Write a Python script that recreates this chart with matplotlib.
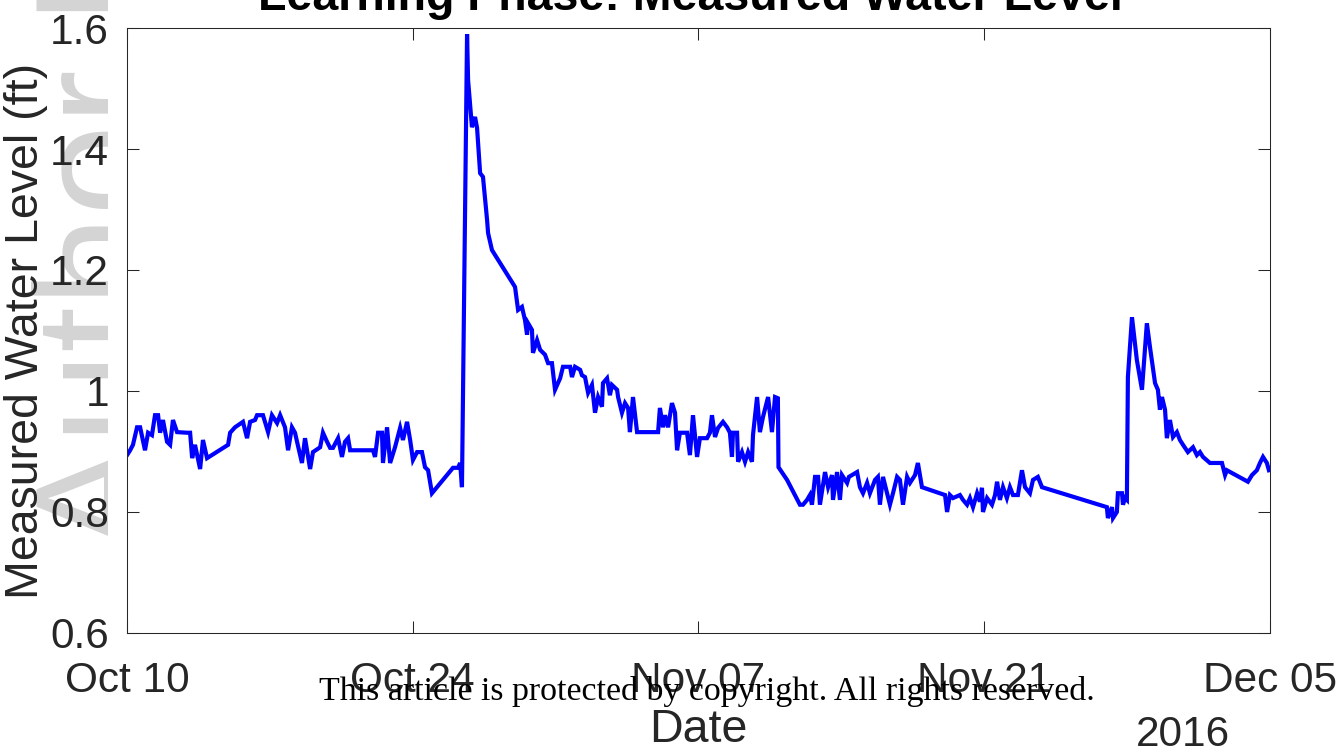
import numpy as np
import pandas as pd
import matplotlib.pyplot as plt
import matplotlib.dates as mdates
from matplotlib.ticker import FuncFormatter
from matplotlib.transforms import Bbox, TransformedBbox

plt.rcParams['font.family'] = ['Liberation Sans', 'DejaVu Sans']

start = pd.Timestamp('2016-10-10')

# days elapsed since Oct 10 2016
days = [
    0.00, 0.15, 0.29, 0.49, 0.64, 0.88, 1.03, 1.22, 1.37, 1.52, 1.62, 1.76,
    1.96, 2.11, 2.25, 2.45, 2.94, 3.09, 3.19, 3.33, 3.58, 3.72, 3.92, 4.95,
    5.05, 5.29, 5.68, 5.88, 6.03, 6.27, 6.37, 6.66, 6.91, 7.10, 7.35, 7.50,
    7.74, 7.89, 8.08, 8.23, 8.33, 8.57, 8.72, 8.97, 9.11, 9.46, 9.60, 9.80,
    9.95, 10.09, 10.34, 10.53, 10.68, 10.83, 10.93, 12.05, 12.15, 12.30,
    12.49, 12.54, 12.74, 12.89, 13.13, 13.38, 13.52, 13.72, 13.87, 14.01,
    14.21, 14.45, 14.60, 14.75, 14.94, 15.97, 16.22, 16.32, 16.41, 16.66,
    16.71, 16.90, 17.05, 17.15, 17.30, 17.44, 17.64, 17.69, 17.88, 19.01,
    19.16, 19.35, 19.50, 19.60, 19.65, 19.84, 19.89, 20.09, 20.24, 20.48,
    20.63, 20.82, 20.97, 21.22, 21.36, 21.71, 21.80, 21.95, 22.20, 22.29,
    22.44, 22.59, 22.78, 22.93, 23.08, 23.27, 23.32, 23.52, 23.66, 23.76,
    24.01, 24.06, 24.25, 24.40, 24.55, 24.64, 24.79, 24.99, 26.02, 26.11,
    26.26, 26.36, 26.51, 26.70, 26.85, 26.95, 27.09, 27.44, 27.58, 27.73,
    27.93, 28.07, 28.42, 28.56, 28.66, 28.81, 28.96, 29.20, 29.40, 29.54,
    29.64, 29.69, 29.89, 29.94, 30.13, 30.28, 30.43, 30.62, 30.67, 30.87,
    31.01, 31.16, 31.41, 31.60, 31.75, 31.89, 31.92, 32.34, 32.97, 33.12,
    33.32, 33.46, 33.56, 33.71, 33.86, 33.95, 34.20, 34.35, 34.54, 34.59,
    34.79, 34.93, 35.03, 35.28, 35.37, 35.77, 35.91, 36.06, 36.26, 36.40,
    36.65, 36.79, 36.89, 37.04, 37.24, 37.38, 37.53, 37.73, 37.87, 38.02,
    38.22, 38.36, 38.61, 38.75, 38.85, 38.95, 40.08, 40.18, 40.32, 40.47,
    40.81, 40.96, 41.16, 41.30, 41.45, 41.65, 41.79, 41.89, 41.94, 42.14,
    42.38, 42.53, 42.63, 42.77, 42.92, 43.11, 43.26, 43.41, 43.65, 43.85,
    44.00, 44.24, 44.39, 44.63, 44.83, 48.01, 48.06, 48.26, 48.31, 48.50,
    48.55, 48.75, 48.80, 48.90, 48.99, 49.04, 49.24, 49.48, 49.73, 49.97,
    50.12, 50.37, 50.51, 50.61, 50.71, 50.86, 50.95, 51.10, 51.25, 51.44,
    51.59, 51.74, 51.98, 52.23, 52.42, 52.57, 52.72, 53.06, 53.65, 53.80,
    53.89, 54.92, 55.12, 55.36, 55.51, 55.66, 55.85, 55.95,
]

# measured water level (ft)
level = [
    0.894, 0.902, 0.911, 0.940, 0.940, 0.902, 0.931, 0.927, 0.960, 0.960, 0.931, 0.952,
    0.916, 0.911, 0.952, 0.932, 0.931, 0.931, 0.889, 0.911, 0.871, 0.919, 0.889, 0.911,
    0.931, 0.940, 0.949, 0.922, 0.949, 0.952, 0.960, 0.960, 0.932, 0.960, 0.947, 0.960,
    0.940, 0.902, 0.940, 0.931, 0.916, 0.881, 0.922, 0.871, 0.899, 0.907, 0.931, 0.916,
    0.906, 0.906, 0.922, 0.891, 0.916, 0.922, 0.902, 0.902, 0.891, 0.931,
    0.931, 0.881, 0.940, 0.881, 0.907, 0.939, 0.919, 0.949, 0.919, 0.886,
    0.899, 0.899, 0.874, 0.869, 0.831, 0.873, 0.873, 0.881, 0.841, 1.590,
    1.514, 1.436, 1.453, 1.435, 1.360, 1.354, 1.283, 1.261, 1.233, 1.172,
    1.134, 1.139, 1.117, 1.093, 1.112, 1.101, 1.063, 1.084, 1.068, 1.060,
    1.046, 1.046, 1.002, 1.021, 1.040, 1.040, 1.023, 1.040, 1.035, 1.026,
    1.023, 0.997, 1.010, 0.964, 0.990, 0.974, 1.013, 1.021, 0.993, 1.010,
    1.002, 0.990, 0.964, 0.980, 0.972, 0.932, 0.990, 0.932, 0.932, 0.972,
    0.940, 0.960, 0.940, 0.980, 0.964, 0.902, 0.931, 0.931, 0.894, 0.960,
    0.891, 0.922, 0.922, 0.931, 0.960, 0.924, 0.939, 0.949, 0.940, 0.931,
    0.891, 0.931, 0.931, 0.883, 0.899, 0.883, 0.899, 0.883, 0.927, 0.990,
    0.932, 0.957, 0.990, 0.932, 0.990, 0.988, 0.874, 0.853, 0.812, 0.812,
    0.820, 0.828, 0.812, 0.858, 0.858, 0.812, 0.866, 0.841, 0.861, 0.820,
    0.866, 0.820, 0.861, 0.848, 0.858, 0.866, 0.841, 0.831, 0.848, 0.831,
    0.853, 0.858, 0.812, 0.858, 0.831, 0.812, 0.831, 0.858, 0.853, 0.812,
    0.858, 0.848, 0.861, 0.881, 0.861, 0.841, 0.828, 0.800, 0.828, 0.823,
    0.828, 0.820, 0.812, 0.823, 0.808, 0.831, 0.817, 0.840, 0.800, 0.823,
    0.812, 0.828, 0.850, 0.820, 0.841, 0.823, 0.841, 0.828, 0.828, 0.869,
    0.841, 0.831, 0.853, 0.858, 0.841, 0.808, 0.790, 0.808, 0.790, 0.800,
    0.831, 0.831, 0.812, 0.823, 0.820, 1.023, 1.122, 1.051, 1.002, 1.112,
    1.073, 1.013, 1.002, 0.969, 0.990, 0.969, 0.922, 0.952, 0.924, 0.932,
    0.919, 0.911, 0.899, 0.907, 0.894, 0.899, 0.891, 0.881, 0.881, 0.861,
    0.869, 0.850, 0.861, 0.869, 0.881, 0.891, 0.881, 0.869,
]

tick_dates = ['2016-10-10', '2016-10-24', '2016-11-07', '2016-11-21', '2016-12-05']
y_ticks = [0.6, 0.8, 1.0, 1.2, 1.4, 1.6]

t = start + pd.to_timedelta(days, unit='D')
dark = '#262626'

fig = plt.figure(figsize=(13.43, 7.53), dpi=100)
ax = fig.add_axes([0.0946, 0.1594, 0.851, 0.8034])
ax.set_zorder(1)
ax.patch.set_alpha(0)

# pale "Author Manuscript" stamp down the left margin, behind the axes
stamp = fig.text(150 / 1343, 1 - 552 / 753, 'Author Manuscript', rotation=90,
                 rotation_mode='anchor', ha='left', va='baseline',
                 fontsize=118, color='#d4d4d4', zorder=0)
stamp.set_clip_box(TransformedBbox(Bbox([[0, 0], [108 / 1343, 1]]), fig.transFigure))

ax.plot(t, level, color='#0000ff', linewidth=3, solid_joinstyle='miter')

ax.set_xlim(pd.Timestamp(tick_dates[0]), pd.Timestamp(tick_dates[-1]))
ax.set_ylim(0.6, 1.6)
ax.set_xticks([pd.Timestamp(d) for d in tick_dates])
ax.xaxis.set_major_formatter(mdates.DateFormatter('%b %d'))
ax.set_yticks(y_ticks)
ax.yaxis.set_major_formatter(FuncFormatter(lambda v, p: '%g' % v))

ax.tick_params(direction='in', length=8.5, width=0.75, color=dark,
               labelcolor=dark, labelsize=30.5, top=True, right=True)
ax.tick_params(axis='x', pad=20)
ax.tick_params(axis='y', pad=13)
for s in ax.spines.values():
    s.set_color(dark)
    s.set_linewidth(0.75)

ax.set_ylabel('Measured Water Level (ft)', fontsize=33.5, color=dark)
ax.yaxis.set_label_coords(-0.069, 0.5)
ax.set_xlabel('Date', fontsize=33.5, color=dark)
ax.xaxis.set_label_coords(0.5, -0.124)

fig.text(1230 / 1343, 1 - 746 / 753, '2016', ha='right', va='baseline',
         fontsize=30.5, color=dark)
fig.text(690 / 1343, 1 - 10 / 753, 'Learning Phase: Measured Water Level',
         ha='center', va='baseline', fontsize=33.5, fontweight='bold')
fig.text(707 / 1343, 1 - 700 / 753,
         'This article is protected by copyright. All rights reserved.',
         ha='center', va='baseline', fontsize=24.4, family='Liberation Serif',
         zorder=5)

fig.savefig('out.png', dpi=100)
